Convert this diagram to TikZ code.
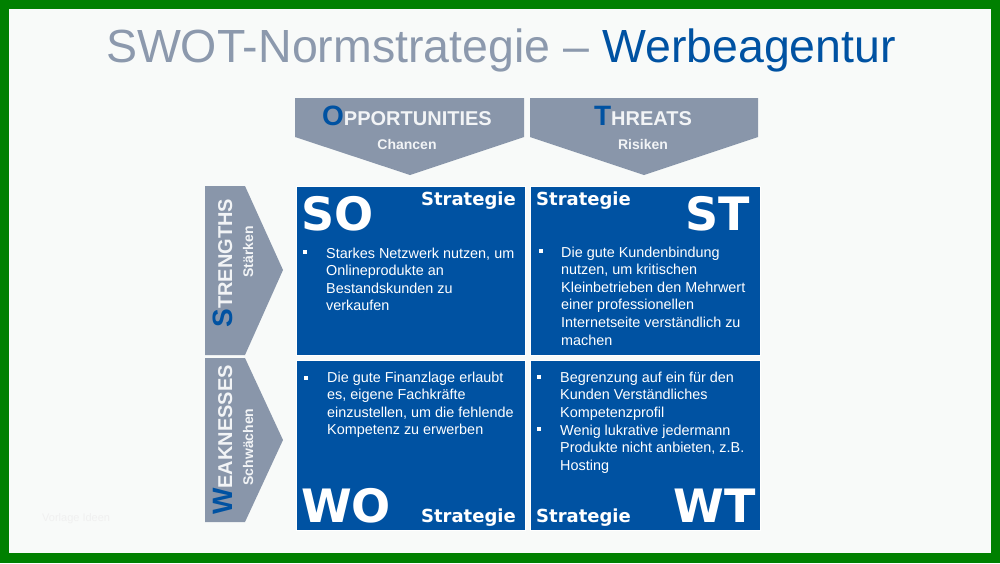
\documentclass[tikz,border=0pt]{standalone}
\usepackage{fontspec}
\setmainfont{Liberation Sans}
\newfontfamily\widefont{DejaVu Sans}
\usepackage{tikz}
\usetikzlibrary{positioning}

\definecolor{framegreen}{RGB}{0,128,0}
\definecolor{paper}{RGB}{248,250,249}
\definecolor{swotblue}{RGB}{0,82,162}
\definecolor{chevgray}{RGB}{137,150,170}
\definecolor{titlegray}{RGB}{140,153,173}
\definecolor{headwhite}{RGB}{242,244,246}

\begin{document}
\begin{tikzpicture}[
    x=1pt, y=-1pt,
    box/.style={fill=swotblue, draw=white, line width=0.8pt, inner sep=0pt, anchor=north west,
                minimum width=229pt, minimum height=169pt},
    chev/.style={fill=chevgray},
    tag/.style={text=white, inner sep=0pt, font=\widefont\bfseries\fontsize{46}{46}\selectfont},
    strat/.style={text=white, inner sep=0pt, font=\widefont\bfseries\fontsize{18}{18}\selectfont},
    item/.style={text=white, inner sep=0pt, align=left, anchor=base west,
                 font=\fontsize{14.4}{17.6}\selectfont},
    bul/.style={fill=white, inner sep=0pt, minimum size=4pt},
    head/.style={text=headwhite, inner sep=0pt, anchor=base, font=\bfseries\fontsize{20}{20}\selectfont},
    sub/.style={text=headwhite, inner sep=0pt, anchor=base, font=\bfseries\fontsize{14}{14}\selectfont}
]
% frame and paper
\fill[framegreen] (0,0) rectangle (1000,563);
\fill[paper] (9,9) rectangle (991,553);
\useasboundingbox (0,0) rectangle (1000,563);

% title
\node[anchor=base, inner sep=0pt, text=titlegray, font=\fontsize{46.5}{50}\selectfont] (title) at (501,62)
    {SWOT-Normstrategie – {\color{swotblue}Werbeagentur}};
\node[anchor=base west, inner sep=0pt, text=black!6, font=\fontsize{11}{11}\selectfont] (mark) at (42,521) {Vorlage Ideen};

% chevrons
\fill[chev] (295,98) -- (524,98) -- (524,137) -- (410,175) -- (295,137) -- cycle;
\fill[chev] (530,98) -- (758,98) -- (758,137) -- (644,175) -- (530,137) -- cycle;
\fill[chev] (205,186) -- (245,186) -- (283,270) -- (245,355) -- (205,355) -- cycle;
\fill[chev] (205,358) -- (245,358) -- (283,440) -- (245,522) -- (205,522) -- cycle;

\node[head] (opp) at (407,125) {{\fontsize{28}{28}\selectfont\color{swotblue}O}PPORTUNITIES};
\node[sub] (chancen) at (407,149) {Chancen};
\node[head] (thr) at (643,125) {{\fontsize{28}{28}\selectfont\color{swotblue}T}HREATS};
\node[sub] (risiken) at (643,149) {Risiken};
\node[head, rotate=90] (str) at (232,263) {{\fontsize{28}{28}\selectfont\color{swotblue}S}TRENGTHS};
\node[sub, rotate=90] (staerken) at (253,252) {Stärken};
\node[head, rotate=90] (weak) at (232,440) {{\fontsize{28}{28}\selectfont\color{swotblue}W}EAKNESSES};
\node[sub, rotate=90] (schwaechen) at (253,447) {Schwächen};

% strategy boxes
\node[box] (so) at (296,186) {};
\node[box, minimum width=230pt] (st) at (530,186) {};
\node[box, minimum height=170pt] (wo) at (296,360) {};
\node[box, minimum width=230pt, minimum height=170pt] (wt) at (530,360) {};

% SO (item nodes sit on the baseline of their last line)
\node[tag, anchor=base west] (sotag) at (301,230) {SO};
\node[strat, anchor=base east] (sostrat) at (516,205) {Strategie};
\node[bul] (sob) at (305,252) {};
\node[item] (sotxt) at (326,310.8) {Starkes Netzwerk nutzen, um\\Onlineprodukte an\\Bestandskunden zu\\verkaufen};

% ST
\node[tag, anchor=base east] (sttag) at (750,230) {ST};
\node[strat, anchor=base west] (ststrat) at (536,205) {Strategie};
\node[bul] (stb) at (541,251) {};
\node[item] (sttxt) at (561,345) {Die gute Kundenbindung\\nutzen, um kritischen\\Kleinbetrieben den Mehrwert\\einer professionellen\\Internetseite verständlich zu\\machen};

% WO
\node[tag, anchor=base west] (wotag) at (301,522) {WO};
\node[strat, anchor=base east] (wostrat) at (516,522) {Strategie};
\node[bul] (wob) at (306,378) {};
\node[item] (wotxt) at (327,434.8) {Die gute Finanzlage erlaubt\\es, eigene Fachkräfte\\einzustellen, um die fehlende\\Kompetenz zu erwerben};

% WT
\node[tag, anchor=base east] (wttag) at (756,522) {WT};
\node[strat, anchor=base west] (wtstrat) at (536,522) {Strategie};
\node[bul] (wtb1) at (539,377) {};
\node[item] (wttxt1) at (560,417.2) {Begrenzung auf ein für den\\Kunden Verständliches\\Kompetenzprofil};
\node[bul] (wtb2) at (539,429) {};
\node[item] (wttxt2) at (560,470.2) {Wenig lukrative jedermann\\Produkte nicht anbieten, z.B.\\Hosting};
\end{tikzpicture}
\end{document}
